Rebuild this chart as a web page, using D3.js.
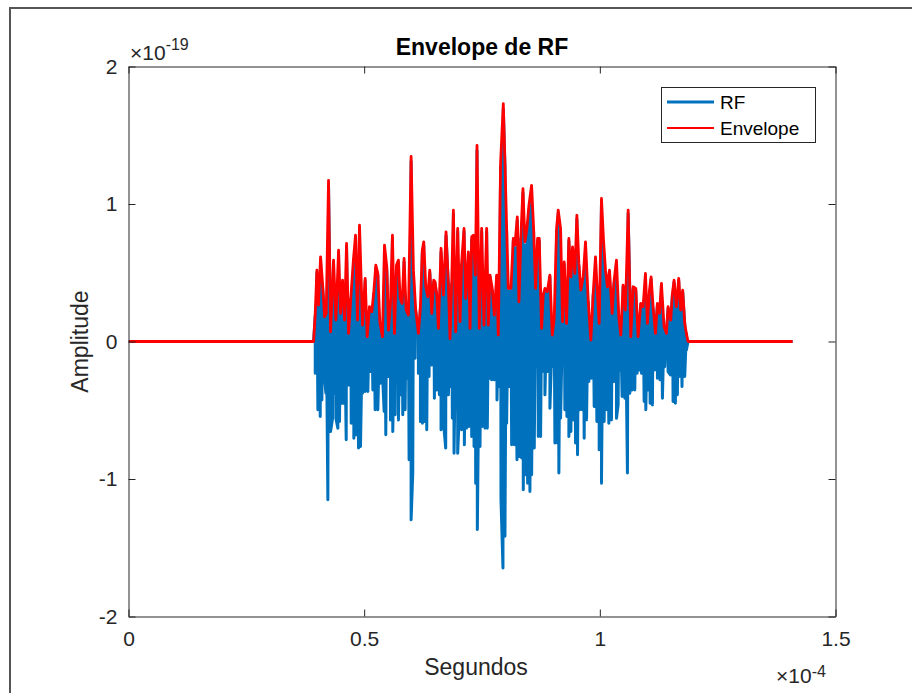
<!DOCTYPE html>
<html>
<head>
<meta charset="utf-8">
<script src="https://cdn.jsdelivr.net/npm/d3@7"></script>
<style>
  html, body { margin: 0; padding: 0; background: #fff; }
  svg { display: block; font-family: "Liberation Sans", Arial, Helvetica, sans-serif; }
</style>
</head>
<body>
<svg id="chart" width="912" height="693"></svg>
<script>
// ---------- DATA ----------
// time in units of 1e-4 s, amplitude in units of 1e-19
const xTicks = [0, 0.5, 1, 1.5];
const yTicks = [-2, -1, 0, 1, 2];
const xTickLabels = ["0", "0.5", "1", "1.5"];
const yTickLabels = ["-2", "-1", "0", "1", "2"];
const titleText = "Envelope de RF";
const xLabelText = "Segundos";
const yLabelText = "Amplitude";
const seriesNames = ["RF", "Envelope"];

// Envelope vertices
const envT = [0, 0.3927, 0.3962, 0.3997, 0.4032, 0.4075, 0.4117, 0.4160, 0.4195, 0.4244,
  0.4287, 0.4350, 0.4400, 0.4457, 0.4499, 0.4541, 0.4584, 0.4626, 0.4669, 0.4718,
  0.4774, 0.4817, 0.4859, 0.4901, 0.4965, 0.5021, 0.5064, 0.5113, 0.5162, 0.5205,
  0.5247, 0.5290, 0.5332, 0.5388, 0.5431, 0.5480, 0.5516, 0.5558, 0.5600, 0.5643,
  0.5685, 0.5727, 0.5763, 0.5805, 0.5847, 0.5890, 0.5939, 0.5996, 0.6045, 0.6094,
  0.6151, 0.6193, 0.6233, 0.6264, 0.6307, 0.6349, 0.6392, 0.6434, 0.6476, 0.6504,
  0.6540, 0.6575, 0.6631, 0.6681, 0.6737, 0.6787, 0.6822, 0.6857, 0.6893, 0.6942,
  0.6984, 0.7034, 0.7069, 0.7119, 0.7154, 0.7211, 0.7246, 0.7281, 0.7317, 0.7359,
  0.7394, 0.7443, 0.7493, 0.7542, 0.7599, 0.7634, 0.7669, 0.7718, 0.7761, 0.7811,
  0.7846, 0.7895, 0.7952, 0.7987, 0.8023, 0.8058, 0.8114, 0.8164, 0.8199, 0.8249,
  0.8284, 0.8326, 0.8369, 0.8411, 0.8453, 0.8496, 0.8552, 0.8595, 0.8637, 0.8679,
  0.8715, 0.8764, 0.8799, 0.8835, 0.8884, 0.8941, 0.8990, 0.9032, 0.9082, 0.9117,
  0.9167, 0.9209, 0.9244, 0.9294, 0.9343, 0.9386, 0.9421, 0.9470, 0.9513, 0.9555,
  0.9597, 0.9647, 0.9696, 0.9753, 0.9809, 0.9859, 0.9908, 0.9944, 0.9986, 1.0035,
  1.0078, 1.0120, 1.0162, 1.0205, 1.0261, 1.0304, 1.0353, 1.0403, 1.0445, 1.0494,
  1.0544, 1.0601, 1.0636, 1.0657, 1.0706, 1.0763, 1.0812, 1.0869, 1.0918, 1.0968,
  1.1010, 1.1053, 1.1088, 1.1130, 1.1180, 1.1222, 1.1265, 1.1307, 1.1363, 1.1413,
  1.1448, 1.1504, 1.1540, 1.1575, 1.1624, 1.1674, 1.1716, 1.1758, 1.1801, 1.1836,
  1.1871, 1.409];
const envV = [0, 0, 0.205, 0.519, 0.265, 0.616, 0.422, 0.180, 0.205, 1.172,
  0.071, 0.592, 0.156, 0.664, 0.205, 0.446, 0.156, 0.713, 0.059, 0.325,
  0.604, 0.773, 0.156, 0.846, 0.120, 0.459, 0.035, 0.253, 0.217, 0.362,
  0.555, 0.495, 0.144, 0.035, 0.701, 0.543, 0.083, 0.277, 0.773, 0.059,
  0.555, 0.592, 0.313, 0.277, 0.604, 0.229, 0.192, 1.347, 0.519, 0.229,
  0.059, 0.253, 0.664, 0.725, 0.398, 0.325, 0.519, 0.205, 0.446, 0.434,
  0.338, 0.095, 0.678, 0.338, 0.797, 0.410, 0.020, 0.434, 0.955, 0.071,
  0.822, 0.144, 0.579, 0.822, 0.313, 0.652, 0.095, 0.761, 0.773, 0.483,
  1.427, 0.095, 0.822, 0.120, 0.822, 0.120, 0.483, 0.386, 0.192, 0.483,
  0.047, 1.305, 1.729, 1.305, 0.822, 0.386, 0.386, 0.749, 0.701, 0.906,
  0.289, 0.773, 1.112, 0.725, 0.822, 0.991, 1.136, 0.822, 0.386, 0.749,
  0.749, 0.095, 0.338, 0.386, 0.362, 0.483, 0.047, 0.168, 0.822, 0.955,
  0.822, 0.144, 0.579, 0.132, 0.749, 0.470, 0.688, 0.495, 0.918, 0.568,
  0.374, 0.470, 0.725, 0.301, 0.011, 0.350, 0.616, 0.374, 0.132, 1.040,
  0.737, 0.519, 0.398, 0.519, 0.205, 0.446, 0.592, 0.180, 0.047, 0.410,
  0.229, 0.955, 0.374, 0.035, 0.398, 0.386, 0.035, 0.277, 0.253, 0.495,
  0.132, 0.374, 0.470, 0.253, 0.059, 0.277, 0.205, 0.422, 0.107, 0.059,
  0.253, 0.156, 0.350, 0.446, 0.253, 0.459, 0.229, 0.374, 0.132, 0.059,
  0, 0];

// RF positive peaks (at the envelope vertex instants)
const rfPosV = [0, 0, 0.19, 0.50, 0.25, 0.59, 0.40, 0.17, 0.19, 1.13,
  0.07, 0.57, 0.15, 0.64, 0.19, 0.43, 0.15, 0.69, 0.06, 0.31,
  0.58, 0.75, 0.15, 0.82, 0.11, 0.44, 0.03, 0.24, 0.21, 0.35,
  0.53, 0.48, 0.14, 0.03, 0.68, 0.52, 0.08, 0.27, 0.75, 0.06,
  0.53, 0.57, 0.30, 0.27, 0.58, 0.22, 0.18, 1.31, 0.50, 0.22,
  0.06, 0.24, 0.64, 0.70, 0.38, 0.31, 0.50, 0.20, 0.43, 0.42,
  0.33, 0.09, 0.65, 0.33, 0.77, 0.40, 0.02, 0.42, 0.93, 0.07,
  0.80, 0.14, 0.56, 0.80, 0.30, 0.63, 0.09, 0.74, 0.75, 0.47,
  1.39, 0.09, 0.80, 0.12, 0.80, 0.12, 0.47, 0.37, 0.18, 0.47,
  0.05, 1.27, 1.69, 1.27, 0.80, 0.37, 0.37, 0.73, 0.68, 0.88,
  0.28, 0.75, 1.08, 0.70, 0.80, 0.96, 1.10, 0.80, 0.37, 0.73,
  0.73, 0.09, 0.33, 0.37, 0.35, 0.47, 0.05, 0.16, 0.80, 0.93,
  0.80, 0.14, 0.56, 0.13, 0.73, 0.45, 0.67, 0.48, 0.89, 0.55,
  0.36, 0.45, 0.70, 0.29, 0.01, 0.34, 0.60, 0.36, 0.13, 1.01,
  0.72, 0.50, 0.38, 0.50, 0.20, 0.43, 0.57, 0.17, 0.05, 0.40,
  0.22, 0.93, 0.36, 0.03, 0.38, 0.37, 0.03, 0.27, 0.24, 0.48,
  0.13, 0.36, 0.45, 0.24, 0.06, 0.27, 0.20, 0.41, 0.10, 0.06,
  0.24, 0.15, 0.34, 0.43, 0.24, 0.44, 0.22, 0.36, 0.13, 0.06,
  0, 0];

// RF negative troughs
const rfNegT = [0.3962, 0.4018, 0.4068, 0.4103, 0.4160, 0.4188, 0.4230, 0.4287, 0.4329, 0.4371,
  0.4400, 0.4442, 0.4477, 0.4527, 0.4569, 0.4619, 0.4668, 0.4725, 0.4781, 0.4823,
  0.4880, 0.4922, 0.4965, 0.5021, 0.5078, 0.5127, 0.5184, 0.5233, 0.5290, 0.5339,
  0.5388, 0.5424, 0.5459, 0.5516, 0.5558, 0.5607, 0.5657, 0.5727, 0.5777, 0.5819,
  0.5869, 0.5904, 0.5953, 0.5996, 0.6031, 0.6081, 0.6151, 0.6194, 0.6236, 0.6278,
  0.6328, 0.6377, 0.6434, 0.6490, 0.6540, 0.6596, 0.6631, 0.6681, 0.6730, 0.6787,
  0.6829, 0.6871, 0.6907, 0.6942, 0.6984, 0.7027, 0.7069, 0.7126, 0.7175, 0.7225,
  0.7281, 0.7331, 0.7366, 0.7401, 0.7458, 0.7507, 0.7564, 0.7613, 0.7655, 0.7705,
  0.7761, 0.7818, 0.7860, 0.7903, 0.7945, 0.7987, 0.8023, 0.8072, 0.8129, 0.8185,
  0.8242, 0.8291, 0.8341, 0.8376, 0.8426, 0.8468, 0.8517, 0.8553, 0.8609, 0.8638,
  0.8694, 0.8743, 0.8778, 0.8835, 0.8884, 0.8941, 0.8990, 0.9047, 0.9096, 0.9131,
  0.9167, 0.9209, 0.9258, 0.9301, 0.9343, 0.9386, 0.9435, 0.9484, 0.9527, 0.9576,
  0.9626, 0.9668, 0.9718, 0.9767, 0.9824, 0.9880, 0.9937, 0.9986, 1.0035, 1.0092,
  1.0141, 1.0191, 1.0247, 1.0304, 1.0353, 1.0388, 1.0424, 1.0473, 1.0530, 1.0586,
  1.0636, 1.0685, 1.0742, 1.0791, 1.0833, 1.0883, 1.0940, 1.0975, 1.1025, 1.1067,
  1.1116, 1.1165, 1.1222, 1.1278, 1.1328, 1.1377, 1.1448, 1.1497, 1.1554, 1.1603,
  1.1645, 1.1695, 1.1744, 1.1801, 1.1836];
const rfNegV = [-0.231, -0.497, -0.546, -0.425, -0.267, -0.376, -1.151, -0.655, -0.558, -0.376,
  -0.558, -0.630, -0.582, -0.449, -0.449, -0.715, -0.316, -0.594, -0.703, -0.679,
  -0.775, -0.763, -0.376, -0.364, -0.364, -0.219, -0.352, -0.497, -0.497, -0.304,
  -0.231, -0.509, -0.679, -0.255, -0.570, -0.655, -0.533, -0.570, -0.388, -0.533,
  -0.497, -0.267, -0.860, -1.296, -0.957, -0.122, -0.231, -0.582, -0.594, -0.582,
  -0.642, -0.255, -0.171, -0.413, -0.352, -0.388, -0.642, -0.582, -0.775, -0.388,
  -0.328, -0.558, -0.812, -0.304, -0.812, -0.461, -0.642, -0.751, -0.630, -0.618,
  -0.691, -0.763, -1.030, -1.368, -0.763, -0.618, -0.630, -0.630, -0.267, -0.279,
  -0.279, -0.425, -0.328, -1.151, -1.647, -1.417, -0.594, -0.328, -0.751, -0.751,
  -0.860, -0.836, -0.848, -1.078, -0.969, -1.030, -1.090, -0.969, -0.775, -0.183,
  -0.691, -0.691, -0.219, -0.388, -0.219, -0.485, -0.183, -0.739, -0.739, -0.957,
  -0.558, -0.134, -0.497, -0.546, -0.691, -0.655, -0.570, -0.739, -0.824, -0.497,
  -0.497, -0.703, -0.570, -0.291, -0.267, -0.473, -0.582, -0.788, -1.030, -0.582,
  -0.497, -0.594, -0.570, -0.291, -0.558, -0.461, -0.207, -0.400, -0.413, -0.957,
  -0.376, -0.352, -0.352, -0.231, -0.207, -0.231, -0.437, -0.497, -0.352, -0.449,
  -0.461, -0.207, -0.267, -0.279, -0.413, -0.183, -0.219, -0.243, -0.437, -0.449,
  -0.388, -0.255, -0.328, -0.255, -0.062];

// ---------- CHART ----------
const svg = d3.select("#chart");
const fontTick = 21;
const x = d3.scaleLinear().domain([0, 1.5]).range([128.5, 835.5]);
const y = d3.scaleLinear().domain([-2, 2]).range([616.5, 66.5]);
const axisColor = "#262626";

// outer figure frame
svg.append("path")
  .attr("d", "M10,693V8H912")
  .attr("fill", "none").attr("stroke", "#555").attr("stroke-width", 2);

// clip
svg.append("defs").append("clipPath").attr("id", "clip")
  .append("rect").attr("x", x(0)).attr("y", y(2))
  .attr("width", x(1.5) - x(0)).attr("height", y(-2) - y(2));

// build series
const envPts = d3.range(Math.min(envT.length, envV.length)).map(i => [envT[i], envV[i]]);
const rfPts = [];
d3.range(Math.min(envT.length, rfPosV.length)).forEach(i => rfPts.push([envT[i], rfPosV[i]]));
d3.range(Math.min(rfNegT.length, rfNegV.length)).forEach(i => rfPts.push([rfNegT[i], rfNegV[i]]));
rfPts.sort((a, b) => a[0] - b[0]);

const line = d3.line().x(d => x(d[0])).y(d => y(d[1]));
const plot = svg.append("g").attr("clip-path", "url(#clip)");
plot.append("path").datum(rfPts).attr("d", line)
  .attr("fill", "none").attr("stroke", "#0072BD").attr("stroke-width", 3)
  .attr("stroke-linejoin", "round").attr("stroke-linecap", "butt");
plot.append("path").datum(envPts).attr("d", line)
  .attr("fill", "none").attr("stroke", "#FF0000").attr("stroke-width", 2.8)
  .attr("stroke-linejoin", "round");

// axes
function styleAxis(g) {
  g.selectAll(".domain").attr("stroke", axisColor).attr("stroke-width", 1);
  g.selectAll(".tick line").attr("stroke", axisColor).attr("stroke-width", 1);
  g.selectAll(".tick text").attr("fill", axisColor)
    .style("font-size", fontTick + "px")
    .style("font-family", '"Liberation Sans", Arial, sans-serif');
}
const gx = svg.append("g").attr("transform", `translate(0,${y(-2)})`)
  .call(d3.axisBottom(x).tickValues(xTicks).tickFormat((d, i) => xTickLabels[i])
    .tickSizeInner(-7).tickSizeOuter(0).tickPadding(15));
styleAxis(gx);
const gxt = svg.append("g").attr("transform", `translate(0,${y(2)})`)
  .call(d3.axisTop(x).tickValues(xTicks).tickFormat("").tickSizeInner(-7).tickSizeOuter(0));
styleAxis(gxt);
const gy = svg.append("g").attr("transform", `translate(${x(0)},0)`)
  .call(d3.axisLeft(y).tickValues(yTicks).tickFormat((d, i) => yTickLabels[i])
    .tickSizeInner(-7).tickSizeOuter(0).tickPadding(11));
styleAxis(gy);
const gyr = svg.append("g").attr("transform", `translate(${x(1.5)},0)`)
  .call(d3.axisRight(y).tickValues(yTicks).tickFormat("").tickSizeInner(-7).tickSizeOuter(0));
styleAxis(gyr);

// exponents
const expY = svg.append("text").attr("x", 130).attr("y", 60).attr("fill", axisColor)
  .style("font-size", fontTick + "px");
expY.append("tspan").text("×10");
expY.append("tspan").attr("dy", -10).style("font-size", "16px").text("-19");

const expX = svg.append("text").attr("x", 776).attr("y", 683).attr("fill", axisColor)
  .style("font-size", fontTick + "px");
expX.append("tspan").text("×10");
expX.append("tspan").attr("dy", -6).style("font-size", "16px").text("-4");

// title and labels
svg.append("text").attr("x", (x(0) + x(1.5)) / 2).attr("y", 55)
  .attr("text-anchor", "middle").attr("fill", "#000")
  .style("font-size", "23px").style("font-weight", "bold").text(titleText);
svg.append("text").attr("x", (x(0) + x(1.5)) / 2 - 6).attr("y", 675)
  .attr("text-anchor", "middle").attr("fill", axisColor)
  .style("font-size", "23px").text(xLabelText);
svg.append("text").attr("transform", `translate(88,${(y(-2) + y(2)) / 2}) rotate(-90)`)
  .attr("text-anchor", "middle").attr("fill", axisColor)
  .style("font-size", "23px").text(yLabelText);

// legend
const lg = svg.append("g");
lg.append("rect").attr("x", 661.5).attr("y", 87.5).attr("width", 154).attr("height", 55)
  .attr("fill", "#fff").attr("stroke", axisColor).attr("stroke-width", 1);
const legendItems = [
  { name: seriesNames[0], color: "#0072BD", w: 3, yy: 102 },
  { name: seriesNames[1], color: "#FF0000", w: 2, yy: 128 }
];
legendItems.forEach(it => {
  lg.append("line").attr("x1", 667).attr("x2", 714).attr("y1", it.yy).attr("y2", it.yy)
    .attr("stroke", it.color).attr("stroke-width", it.w);
  lg.append("text").attr("x", 720).attr("y", it.yy + 7).attr("fill", "#000")
    .style("font-size", "19px").text(it.name);
});
</script>
</body>
</html>
